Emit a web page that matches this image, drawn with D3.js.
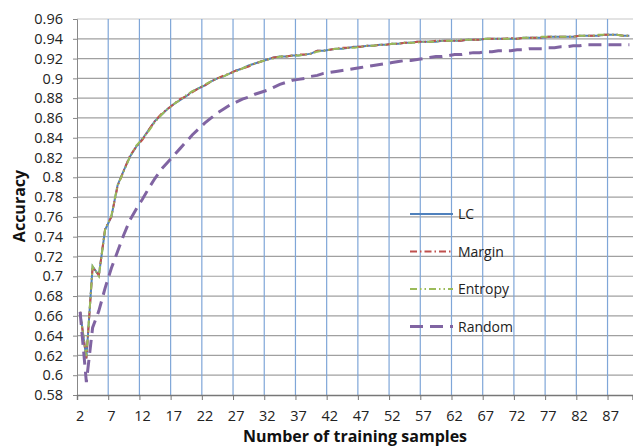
<!DOCTYPE html>
<html>
<head>
<meta charset="utf-8">
<script src="https://cdn.jsdelivr.net/npm/d3@7"></script>
<style>
  body { margin: 0; background: #fff; }
  text { font-family: "Open Sans", sans-serif; }
</style>
</head>
<body>
<div id="vis"></div>
<script>
// x categories: number of training samples 2..90
const samples = d3.range(2, 91);
const xTickLabels = ["2","7","12","17","22","27","32","37","42","47","52","57","62","67","72","77","82","87"];
const yTicks = [0.58,0.6,0.62,0.64,0.66,0.68,0.7,0.72,0.74,0.76,0.78,0.8,0.82,0.84,0.86,0.88,0.9,0.92,0.94,0.96];

// accuracy per series
const lc = [
  0.664,0.617,0.710,0.701,0.747,0.760,0.792,0.807,0.821,0.831,
  0.839,0.848,0.857,0.863,0.869,0.874,0.878,0.882,0.887,0.890,
  0.893,0.897,0.900,0.902,0.905,0.908,0.910,0.913,0.915,0.917,
  0.919,0.921,0.922,0.922,0.923,0.923,0.924,0.925,0.928,0.928,
  0.929,0.930,0.930,0.931,0.932,0.932,0.933,0.933,0.934,0.934,
  0.935,0.935,0.936,0.936,0.937,0.937,0.937,0.937,0.938,0.938,
  0.938,0.938,0.939,0.939,0.939,0.940,0.940,0.940,0.940,0.940,
  0.940,0.941,0.941,0.941,0.941,0.942,0.942,0.942,0.942,0.942,
  0.943,0.943,0.943,0.943,0.944,0.944,0.944,0.943,0.943];
const margin = [
  0.664,0.617,0.709,0.701,0.748,0.760,0.791,0.807,0.822,0.831,
  0.838,0.848,0.857,0.864,0.869,0.874,0.879,0.882,0.886,0.890,
  0.893,0.897,0.900,0.903,0.905,0.908,0.910,0.912,0.915,0.917,
  0.919,0.921,0.922,0.922,0.923,0.924,0.924,0.925,0.928,0.928,
  0.929,0.930,0.931,0.931,0.932,0.932,0.933,0.933,0.934,0.934,
  0.935,0.935,0.936,0.936,0.937,0.937,0.937,0.938,0.938,0.938,
  0.938,0.938,0.939,0.939,0.939,0.940,0.940,0.940,0.940,0.941,
  0.940,0.941,0.941,0.941,0.941,0.942,0.942,0.942,0.942,0.942,
  0.943,0.943,0.943,0.943,0.944,0.944,0.944,0.943,0.943];
const entropy = [
  0.664,0.618,0.710,0.700,0.747,0.761,0.792,0.806,0.821,0.832,
  0.839,0.847,0.856,0.863,0.869,0.874,0.878,0.883,0.887,0.890,
  0.894,0.897,0.900,0.902,0.905,0.907,0.910,0.913,0.915,0.917,
  0.919,0.920,0.922,0.922,0.923,0.923,0.924,0.925,0.927,0.928,
  0.929,0.930,0.930,0.931,0.931,0.932,0.933,0.933,0.934,0.934,
  0.935,0.935,0.936,0.936,0.936,0.937,0.937,0.937,0.938,0.938,
  0.938,0.939,0.939,0.939,0.939,0.940,0.940,0.940,0.940,0.940,
  0.940,0.941,0.941,0.941,0.942,0.942,0.942,0.942,0.942,0.942,
  0.943,0.943,0.943,0.944,0.944,0.944,0.944,0.943,0.943];
const random = [
  0.664,0.593,0.648,0.665,0.688,0.708,0.725,0.742,0.757,0.768,
  0.778,0.789,0.799,0.808,0.815,0.822,0.829,0.836,0.843,0.849,
  0.855,0.860,0.865,0.869,0.873,0.876,0.879,0.881,0.884,0.886,
  0.888,0.891,0.894,0.896,0.898,0.899,0.900,0.902,0.903,0.905,
  0.906,0.907,0.908,0.909,0.910,0.911,0.912,0.913,0.914,0.915,
  0.916,0.917,0.918,0.918,0.919,0.920,0.921,0.922,0.922,0.923,
  0.924,0.924,0.925,0.926,0.926,0.927,0.927,0.928,0.928,0.928,
  0.929,0.929,0.930,0.930,0.930,0.931,0.931,0.932,0.932,0.933,
  0.933,0.934,0.934,0.934,0.934,0.934,0.934,0.934,0.934];

const seriesNames = ["LC", "Margin", "Entropy", "Random"];
const seriesValues = [lc, margin, entropy, random];
const seriesColors = ["#4f81bd", "#c0504d", "#9bbb59", "#8064a2"];
const seriesDash = [null, "7,3,1.5,3", "7,3,1.5,3,1.5,3", "13,7"];
const seriesWidth = [2, 2, 2, 3];

const W = 633, H = 446;
const svg = d3.select("#vis").append("svg")
  .attr("width", W)
  .attr("height", H);

// categories sit between tick marks, like excel
const x = d3.scaleLinear().domain([1.5, 90.5]).range([77, 632.5]);
const y = d3.scaleLinear().domain([0.58, 0.96]).range([395, 19]);

// horizontal grid
svg.append("g")
  .selectAll("line")
  .data(yTicks.slice(1))
  .enter().append("line")
    .attr("x1", 77).attr("x2", 633)
    .attr("y1", d => y(d)).attr("y2", d => y(d))
    .attr("stroke", d => d === 0.96 ? "#c8c8c8" : "#a0a0a0")
    .attr("stroke-width", 1.2);

// vertical grid (blue) at the labelled category boundaries
const boundaries = xTickLabels.map(s => +s - 0.5);
svg.append("g")
  .selectAll("line")
  .data(boundaries.slice(1))
  .enter().append("line")
    .attr("x1", d => x(d)).attr("x2", d => x(d))
    .attr("y1", y(0.96)).attr("y2", y(0.58))
    .attr("stroke", "#7fa6d8")
    .attr("stroke-width", 1.2);

// y axis
const yAxis = svg.append("g")
  .attr("transform", "translate(77,0)")
  .call(d3.axisLeft(y).tickValues(yTicks).tickSize(4).tickPadding(10)
    .tickFormat(d => d3.format("")(+d.toFixed(2))));
yAxis.select(".domain").attr("stroke", "#888");
yAxis.selectAll(".tick line").attr("stroke", "#888");
yAxis.selectAll("text").attr("font-size", 14.5).attr("fill", "#222")
  .attr("font-family", "Open Sans");

// x axis: tick marks at boundaries, labels at category centres
const xAxis = svg.append("g")
  .attr("transform", "translate(0,395)")
  .call(d3.axisBottom(x).tickValues(boundaries).tickSize(5).tickFormat(""));
xAxis.select(".domain").attr("stroke", "#777").attr("stroke-width", 1.4);
xAxis.selectAll(".tick line").attr("stroke", "#777");

svg.append("g")
  .selectAll("text")
  .data(xTickLabels)
  .enter().append("text")
    .attr("x", d => x(+d))
    .attr("y", 421)
    .attr("text-anchor", "middle")
    .attr("font-size", 14.5)
    .attr("fill", "#222")
    .text(d => d);

// lines
const line = d3.line()
  .x((d, i) => x(samples[i]))
  .y(d => y(d));

seriesValues.forEach((vals, k) => {
  svg.append("path")
    .datum(vals)
    .attr("d", line)
    .attr("fill", "none")
    .attr("stroke", seriesColors[k])
    .attr("stroke-width", seriesWidth[k])
    .attr("stroke-dasharray", seriesDash[k]);
});

// legend
const legend = svg.append("g");
seriesNames.forEach((name, k) => {
  let ly = 214 + k * 37.5;
  legend.append("line")
    .attr("x1", 410).attr("x2", 453)
    .attr("y1", ly).attr("y2", ly)
    .attr("stroke", seriesColors[k])
    .attr("stroke-width", seriesWidth[k])
    .attr("stroke-dasharray", seriesDash[k]);
  legend.append("text")
    .attr("x", 458)
    .attr("y", ly + 5)
    .attr("font-size", 14)
    .attr("fill", "#222")
    .text(name);
});

// axis titles
svg.append("text")
  .attr("x", 355)
  .attr("y", 442)
  .attr("text-anchor", "middle")
  .attr("font-size", 16)
  .attr("font-weight", "bold")
  .attr("fill", "#111")
  .text("Number of training samples");

svg.append("text")
  .attr("transform", "translate(25,206) rotate(-90)")
  .attr("text-anchor", "middle")
  .attr("font-size", 16)
  .attr("font-weight", "bold")
  .attr("fill", "#111")
  .text("Accuracy");
</script>
</body>
</html>
